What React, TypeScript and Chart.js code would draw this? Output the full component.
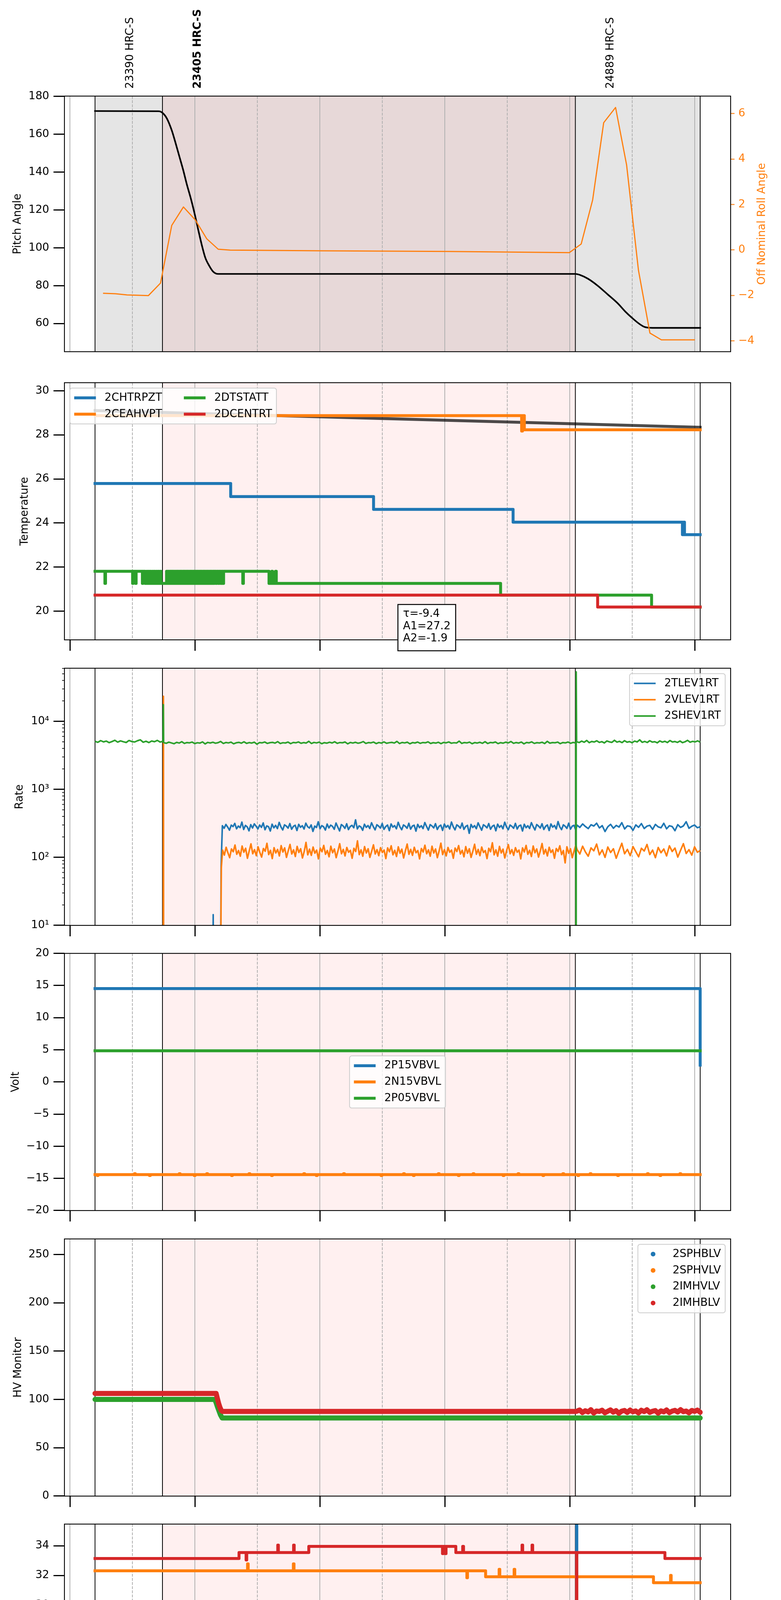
import React, { useEffect, useRef } from 'react';
import Chart from 'chart.js/auto';

const FONT = 'DejaVu Sans';
const FS = 27.8;
const BLUE = '#1f77b4';
const ORANGE = '#ff7f0e';
const GREEN = '#2ca02c';
const RED = '#d62728';

Chart.defaults.font.family = FONT;

// ---- time axis: minutes after 2020-12-13 00:00 ----
const xRange = [-2.63, 317.25];
const hourTicks = [0, 60, 120, 180, 240, 300];
const hourLabels = ['00h', '01h', '02h', '03h', '04h', '05h'];
const halfTicks = [30, 90, 150, 210, 270];
const halfLabel = '30';
const dateLabel = '2020-12-13 (348)';

// ---- observations ----
const obsStarts = [12.06, 44.44, 242.7];
const obsEnd = 302.63;
const obsNames = ['23390 HRC-S', '23405 HRC-S', '24889 HRC-S'];
const obsBold = [false, true, false];
const obsLabelShift = 17;

// ---- panel 1: pitch / roll ----
const pitchRange = [45.1, 180.2];
const pitchTicks = [60, 80, 100, 120, 140, 160, 180];
const rollRange = [-4.48, 6.77];
const rollTicks = [-4, -2, 0, 2, 4, 6];
const pitchT = [12.06, 42.5, 44.4, 46.6, 48.9, 50.6, 52.5, 54.4, 56.1, 58.0, 59.7, 61.6, 63.3, 65.0, 66.9, 68.8, 71.2, 242.7, 245.1, 248.7, 253.4, 258.2, 263.0, 266.6, 270.2, 273.3, 276.1, 279.7, 302.63];
const pitchV = [172.3, 172.2, 171.4, 168.3, 162.1, 155.9, 148.5, 141.1, 133.7, 126.3, 118.9, 109.6, 101.6, 94.8, 90.5, 87.4, 86.2, 86.2, 85.6, 83.7, 80.0, 75.4, 70.7, 66.4, 62.7, 59.9, 58.1, 57.7, 57.7];
const rollT = [15.9, 21.9, 27.4, 37.7, 43.5, 48.9, 54.5, 60.2, 65.7, 71.2, 76.9, 119.5, 181.7, 239.8, 245.5, 251.0, 256.3, 262.0, 267.3, 273.0, 278.5, 284.0, 300.1];
const rollV = [-1.91, -1.93, -1.98, -2.01, -1.46, 1.08, 1.89, 1.32, 0.49, 0.03, -0.01, -0.04, -0.07, -0.12, 0.26, 2.2, 5.6, 6.27, 3.74, -0.9, -3.66, -3.96, -3.96];

// ---- panel 2: temperature ----
const tempRange = [18.7, 30.365];
const tempTicks = [20, 22, 24, 26, 28, 30];
const fitLine = [[12.06, 29.10], [302.63, 28.34]];
const fitText = ['τ=-9.4', 'A1=27.2', 'A2=-1.9'];
const chtrpzt = [[12.06, 25.79], [77.2, 25.20], [145.8, 24.62], [212.8, 24.04], [294.1, 23.47], [294.6, 24.04], [295.1, 23.47], [302.63, 23.47]];
const ceahvpt = [[12.06, 28.87], [216.9, 28.17], [217.3, 28.87], [218.2, 28.23], [302.63, 28.23]];
const dtstatt = [
  [12.06, 21.81], [16.8, 21.26], [17.1, 21.81], [30.1, 21.26], [30.4, 21.81], [31.5, 21.26], [31.8, 21.81], [34.8, 21.26], [35.1, 21.81],
  [36.1, 21.26], [36.9, 21.81], [37.2, 21.26], [37.8, 21.81], [38.1, 21.26], [38.7, 21.81], [39.0, 21.26], [39.7, 21.81], [40.0, 21.26],
  [40.6, 21.81], [40.9, 21.26], [41.6, 21.81], [41.9, 21.26], [42.5, 21.81], [42.8, 21.26], [43.4, 21.81], [43.7, 21.26],
  [46.4, 21.81], [46.8, 21.26], [47.1, 21.81], [47.5, 21.26], [47.9, 21.81], [48.3, 21.26], [48.6, 21.81], [49.1, 21.26], [49.4, 21.81],
  [49.9, 21.26], [50.3, 21.81], [50.6, 21.26], [51.0, 21.81], [51.5, 21.26], [51.8, 21.81], [52.2, 21.26], [52.6, 21.81], [53.1, 21.26],
  [53.4, 21.81], [53.8, 21.26], [54.2, 21.81], [54.7, 21.26], [55.0, 21.81], [55.4, 21.26], [55.8, 21.81], [56.3, 21.26], [56.6, 21.81],
  [57.0, 21.26], [57.4, 21.81], [57.9, 21.26], [58.2, 21.81], [58.6, 21.26], [59.0, 21.81], [59.5, 21.26], [59.8, 21.81], [60.2, 21.26],
  [60.6, 21.81], [61.1, 21.26], [61.4, 21.81], [61.8, 21.26], [62.2, 21.81], [62.7, 21.26], [63.0, 21.81], [63.4, 21.26], [63.8, 21.81],
  [64.3, 21.26], [64.6, 21.81], [65.0, 21.26], [65.4, 21.81], [65.9, 21.26], [66.2, 21.81], [66.6, 21.26], [67.0, 21.81], [67.5, 21.26],
  [67.8, 21.81], [68.2, 21.26], [68.6, 21.81], [69.1, 21.26], [69.4, 21.81], [70.1, 21.26], [70.5, 21.81], [71.3, 21.26], [71.7, 21.81],
  [72.4, 21.26], [72.8, 21.81], [73.4, 21.26], [73.8, 21.81], [83.0, 21.26], [83.3, 21.81],
  [95.6, 21.26], [96.9, 21.81], [97.3, 21.26], [98.7, 21.81], [99.1, 21.26],
  [206.8, 20.73], [279.3, 20.19], [302.63, 20.19],
];
const dcentrt = [[12.06, 20.73], [253.4, 20.19], [302.63, 20.19]];

// ---- panel 3: rates (log) ----
const rateRange = [10, 60400];
const rateTicks = [10, 100, 1000, 10000];
const rateTickLabels = ['10¹', '10²', '10³', '10⁴'];
const rateMinor = [2, 3, 4, 5, 6, 7, 8, 9];
const tlevLead = [[12.06, 1], [68.6, 1], [68.8, 14.4], [69.0, 1], [72.3, 1], [72.6, 75]];
const tlevDense = [
  292, 268, 305, 279, 251, 298, 284, 316, 263, 289, 274, 330, 257, 295, 281, 246, 303, 270, 311, 287,
  262, 299, 276, 321, 255, 290, 283, 244, 308, 272, 296, 265, 327, 280, 253, 301, 289, 269, 314, 259,
  286, 297, 248, 306, 277, 292, 261, 318, 283, 270, 300, 241, 288, 275, 334, 264, 293, 282, 252, 309,
  271, 298, 286, 259, 320, 279, 245, 304, 290, 267, 312, 256, 285, 296, 273, 357, 262, 291, 280, 250,
  307, 276, 294, 266, 323, 283, 254, 302, 288, 270, 315, 258, 284, 299, 247, 310, 278, 293, 263, 328,
  281, 255, 300, 287, 268, 317, 260, 289, 297, 243, 306, 274, 292, 265, 325, 284, 252, 303, 290, 271,
  313, 257, 286, 298, 249, 309, 277, 295, 262, 331, 282, 254, 301, 288, 269, 319, 258, 285, 296, 226,
  305, 275, 293, 264, 322, 283, 251, 302, 289, 272, 314, 259, 287, 297, 246, 308, 276, 294, 263, 329,
  280, 255, 299, 286, 268, 316, 261, 290, 298, 244, 307, 273, 292, 266, 324, 284, 253, 304, 289, 270,
  312, 257, 286, 300, 248, 310, 278, 295, 262, 336, 281, 256, 301, 287, 267, 318, 260, 288, 296, 250,
];
const tlevTail = [
  298, 276, 310, 284, 265, 302, 289, 318, 271, 293, 240, 282, 306, 268, 295, 279, 324, 262, 291, 285,
  250, 300, 277, 314, 266, 288, 296, 258, 305, 281, 272, 317, 263, 292, 284, 247, 303, 276, 290, 334,
  268, 287, 299, 273, 281,
];
const vlevLead = [[12.06, 1], [44.8, 1], [44.9, 23400], [45.0, 1], [72.3, 1], [72.7, 70]];
const vlevDense = [
  128, 108, 141, 117, 99, 133, 121, 152, 111, 126, 104, 147, 119, 136, 97, 124, 158, 113, 130, 106,
  143, 118, 101, 135, 123, 161, 110, 127, 96, 139, 116, 131, 105, 149, 120, 138, 100, 125, 155, 112,
  129, 103, 145, 118, 134, 98, 122, 166, 109, 132, 107, 142, 115, 128, 95, 137, 121, 150, 111, 126,
  102, 146, 117, 133, 99, 124, 159, 113, 131, 105, 140, 119, 127, 97, 136, 122, 175, 110, 129, 104,
  144, 116, 134, 100, 123, 153, 112, 130, 106, 139, 118, 128, 96, 138, 121, 148, 109, 127, 103, 143,
  115, 132, 98, 125, 157, 111, 131, 107, 141, 117, 126, 95, 135, 120, 151, 113, 129, 104, 146, 116,
  133, 99, 124, 162, 110, 130, 105, 140, 119, 128, 97, 137, 122, 149, 112, 127, 102, 144, 115, 134,
  100, 123, 156, 111, 131, 106, 142, 118, 126, 96, 136, 121, 164, 109, 129, 104, 145, 116, 132, 98,
  125, 154, 113, 130, 107, 139, 119, 128, 95, 138, 120, 150, 111, 127, 103, 147, 117, 133, 101, 124,
  160, 112, 131, 105, 141, 118, 129, 97, 135, 122, 148, 110, 126, 83, 143, 115, 134, 99, 123, 152,
];
const vlevTail = [
  131, 112, 146, 120, 104, 138, 125, 157, 109, 129, 100, 142, 118, 134, 97, 126, 161, 113, 131, 106,
  144, 121, 102, 136, 124, 155, 110, 128, 99, 140, 117, 133, 105, 148, 122, 137, 101, 127, 159, 114,
  130, 108, 143, 119, 126,
];
const shevHead = [5080, 4920, 5210, 4990, 5130, 4860, 5050, 5270, 4950, 5160, 5010, 4890, 5230, 5040, 4970, 5190, 5350, 4930, 5100, 4880, 5140, 5020, 5250, 4960, 5090];
const shevSpike1 = [[44.85, 17600]];
const shevMid = [
  4870, 4760, 4950, 4820, 4690, 4910, 4800, 5020, 4740, 4880, 4830, 4960, 4710, 4850, 4790, 4990, 4660, 4900, 4810, 4930,
  4770, 4860, 5060, 4730, 4890, 4820, 4950, 4680, 4840, 4910, 4780, 5000, 4750, 4870, 4800, 4940, 4620, 4880, 4830, 4970,
  4740, 4860, 4910, 4790, 5030, 4720, 4850, 4810, 4960, 4700, 4890, 4840, 4980, 4760, 4870, 4800, 5090, 4730, 4900, 4820,
  4950, 4690, 4860, 4780, 4930, 4810, 5010, 4750, 4880, 4840, 4970, 4670, 4890, 4800, 4920, 4770, 4860, 5040, 4740, 4870,
  4830, 4960, 4710, 4880, 4790, 4990, 4760, 4850, 4910, 4800, 5070, 4720, 4890, 4820, 4940, 4680, 4870, 4810, 4960, 4750,
  4880, 4840, 5000, 4730, 4860, 4790, 4930, 4700, 4900, 4830, 4980, 4770, 4850, 4810, 5120, 4740, 4880, 4820, 4950, 4690,
  4870, 4800, 4920, 4760, 5020, 4730, 4890, 4840, 4970, 4710, 4860, 4780, 4940, 4820, 5050, 4750, 4880, 4800, 4960, 4670,
  4890, 4830, 4990, 4740, 4860, 4810, 4930, 4720, 5080, 4780, 4870, 4840, 4950, 4700, 4880, 4820, 4970, 4760, 4900, 4810,
];
const shevSpike2 = [[243.0, 1], [243.1, 53400]];
const shevTail = [
  5010, 4880, 5120, 4930, 5240, 4860, 5060, 4970, 5180, 4900, 5030, 4820, 5150, 4990, 4910, 5270, 4950, 5080, 4870, 5200,
  4940, 5040, 4850, 5130, 4980, 5350, 4920, 5070, 4890, 5190, 4960, 5020, 4830, 5160, 4950, 5090, 4880, 5220, 4970, 5050,
  4900, 5140, 4860, 5010, 5260, 4930, 5080, 4990, 5170, 4940,
];

// ---- panel 4: voltages ----
const voltRange = [-20, 20];
const voltTicks = [-20, -15, -10, -5, 0, 5, 10, 15, 20];
const p15vbvl = [[12.06, 14.53], [302.63, 2.62]];
const p05vbvl = [[12.06, 4.85], [302.63, 4.85]];
const n15vbvl = [
  [12.06, -14.41], [13.1, -14.55], [13.5, -14.41], [31.0, -14.28], [31.4, -14.41], [38.2, -14.55], [38.6, -14.41], [52.5, -14.28], [52.9, -14.41],
  [59.7, -14.55], [60.1, -14.41], [65.7, -14.28], [66.1, -14.41], [77.6, -14.55], [78.0, -14.41], [86.0, -14.28], [86.4, -14.41], [96.8, -14.55],
  [97.2, -14.41], [112.3, -14.28], [112.7, -14.41], [118.3, -14.55], [118.7, -14.41], [131.4, -14.28], [131.8, -14.41], [149.4, -14.55], [149.8, -14.41],
  [160.2, -14.28], [160.6, -14.41], [164.9, -14.55], [165.3, -14.41], [176.9, -14.28], [177.3, -14.41], [186.5, -14.55], [186.9, -14.41], [193.6, -14.28],
  [194.0, -14.41], [208.0, -14.55], [208.4, -14.41], [215.2, -14.28], [215.6, -14.41], [227.1, -14.55], [227.5, -14.41], [236.7, -14.28], [237.1, -14.41],
  [243.9, -14.55], [244.3, -14.41], [249.8, -14.28], [250.2, -14.41], [263.0, -14.55], [263.4, -14.41], [277.3, -14.28], [277.7, -14.41], [283.3, -14.55],
  [283.7, -14.41], [292.9, -14.28], [293.3, -14.41], [302.63, -14.41],
];

// ---- panel 5: HV monitor ----
const hvRange = [0, 266];
const hvTicks = [0, 50, 100, 150, 200, 250];
const imhvlv = [[12.06, 100], [69.6, 100], [70.3, 96], [70.9, 92], [71.6, 88], [72.3, 84], [73.1, 80.8], [302.63, 80.8]];
const imhblvHead = [[12.06, 106.2], [70.2, 106.2], [70.8, 101], [71.4, 96], [72.0, 92], [72.7, 88.5], [73.3, 87.6], [243.0, 87.6]];
const imhblvTail = [
  87.8, 89.1, 86.4, 88.3, 87.0, 89.4, 85.9, 88.0, 87.5, 88.9, 86.2, 87.7, 89.2, 86.8, 88.4, 85.7, 87.9, 88.6, 86.5, 89.0,
  87.2, 88.1, 86.0, 88.8, 87.4, 89.3, 86.6, 87.8, 88.5, 85.8, 88.2, 87.1, 89.1, 86.3, 87.9, 88.7, 86.9, 89.4, 87.3, 88.0,
  86.1, 88.6, 87.6, 89.0, 86.7,
];

// ---- panel 6: detector temperatures ----
const detRange = [18.12, 35.46];
const detTicks = [20, 22, 24, 26, 28, 30, 32, 34];
const spinatm = [[12.06, 19.62], [243.3, 40], [243.4, 19.62], [302.63, 19.62]];
const sphvatm = [[12.06, 32.31], [85.3, 32.78], [85.6, 32.31], [107.3, 32.78], [107.6, 32.31], [190.6, 31.84], [190.9, 32.31], [199.6, 31.91], [206.1, 32.41], [206.4, 31.91], [213.3, 32.41], [213.6, 31.91], [243.3, 21.13], [243.4, 31.91], [280.2, 31.51], [288.4, 32.0], [288.7, 31.51], [302.63, 31.51]];
const iminatm = [[12.06, 20.98], [243.3, 10], [243.4, 20.98], [258.7, 20.29], [302.63, 20.29]];
const imhvatm = [[12.06, 33.14], [81.2, 33.54], [84.6, 33.04], [84.9, 33.54], [99.8, 34.04], [100.1, 33.54], [107.4, 34.04], [107.7, 33.54], [114.7, 33.96], [178.9, 33.47], [179.3, 33.96], [180.2, 33.47], [180.6, 33.96], [185.3, 33.54], [188.6, 33.96], [189.0, 33.54], [217.1, 34.04], [217.4, 33.54], [221.9, 34.04], [222.2, 33.54], [243.3, 24.2], [243.4, 33.54], [285.7, 33.14], [302.63, 33.14]];

// ---- panel 7: FEA temperatures ----
const feaRange = [15.65, 26.89];
const feaTicks = [16, 18, 20, 22, 24, 26];
const fhtrmzt = [[12.06, 24.04], [51.3, 24.62], [67.6, 24.04], [116.2, 23.47], [159.8, 22.91], [206.0, 22.40], [257.0, 21.80], [302.63, 21.80]];
const fradpyt = [[12.06, 19.68], [55.0, 20.24], [55.3, 19.68], [73.8, 19.17], [89.9, 18.65], [113.3, 18.14], [147.0, 17.65], [188.6, 17.15], [233.8, 16.66], [302.63, 16.66]];
const fepratm = [
  [12.06, 25.38], [56.1, 26.22], [56.5, 25.38], [56.8, 26.22], [57.3, 25.38], [57.6, 26.22], [58.0, 25.38], [58.4, 26.22], [58.9, 25.38],
  [59.2, 26.22], [59.6, 25.38], [60.0, 26.22], [60.5, 25.38], [60.8, 26.22], [61.2, 25.38], [61.6, 26.22], [62.1, 25.38], [62.4, 26.22],
  [62.8, 25.38], [63.2, 26.22], [63.7, 25.38], [64.0, 26.22], [64.4, 25.38], [64.8, 26.22], [65.3, 25.38], [65.6, 26.22], [66.0, 25.38],
  [66.4, 26.22], [66.9, 25.38], [67.2, 26.22], [67.6, 25.38], [68.0, 26.22], [68.5, 25.38], [68.8, 26.22], [69.2, 25.38], [69.6, 26.22],
  [70.1, 25.38], [70.4, 26.22], [70.8, 25.38], [71.2, 26.22], [71.7, 25.38], [72.0, 26.22], [72.4, 25.38], [72.8, 26.22], [73.3, 25.38],
  [73.6, 26.22], [74.0, 25.38], [74.4, 26.22], [74.9, 25.38], [75.2, 26.22], [75.5, 25.38],
  [159.8, 24.63], [166.7, 25.40], [167.0, 24.63], [233.1, 23.87], [302.63, 23.87],
];
const fe00atm = [
  [12.06, 23.61], [58.0, 24.0], [58.3, 23.61], [59.6, 24.0], [60.0, 23.61], [61.3, 24.0], [61.7, 23.61],
  [88.6, 21.69], [88.9, 23.61], [93.3, 23.27], [93.6, 23.61], [98.3, 22.62], [98.6, 23.61], [101.7, 22.0], [102.0, 23.61],
  [104.0, 23.29], [107.5, 23.65], [107.8, 23.29], [115.2, 23.65], [115.5, 23.29], [125.4, 22.94], [125.7, 23.29], [127.8, 24.29], [128.1, 23.29],
  [130.1, 23.97], [130.4, 23.29], [135.6, 22.98], [137.0, 23.34], [137.3, 22.98], [142.0, 22.34], [142.3, 22.98], [143.0, 22.0], [143.3, 22.98],
  [169.3, 22.65], [175.2, 22.31], [175.5, 22.65], [176.6, 22.99], [176.9, 22.65], [192.0, 23.32], [192.3, 22.65], [197.0, 22.31], [197.3, 22.65],
  [202.4, 23.64], [202.6, 22.0], [202.8, 22.65], [203.3, 22.33], [210.1, 22.68], [210.4, 22.33],
  [239.8, 22.02], [243.3, 40], [243.4, 22.02], [279.0, 23.0], [279.3, 22.02], [283.3, 21.70], [302.63, 21.70],
];

// ---- helpers ----
type Pt = { x: number; y: number };
const pts = (rows: number[][]): Pt[] => rows.map(([x, y]) => ({ x, y }));
const zip = (t: number[], v: number[]): Pt[] => t.map((x, i) => ({ x, y: v[i] }));
// evenly spaced samples between two times (the telemetry sample clock)
const spread = (vals: number[], t0: number, t1: number): Pt[] =>
  vals.map((y, i) => ({ x: t0 + ((t1 - t0) * i) / (vals.length - 1), y }));
const fmt = (v: number) => String(v).replace('-', '\u2212');

type Series = {
  label: string; color: string; width: number; points: Pt[];
  stepped?: boolean; smooth?: boolean; axis?: string; cap?: CanvasLineCap; legend?: boolean; marker?: boolean;
};
type PanelSpec = {
  key: string; top: number; padTop: number; axisH: number; title: string; titleX: number;
  yRange: number[]; yTicks: number[]; yLabels?: string[]; log?: boolean;
  series: Series[]; legend?: { loc: string; ncol: number };
  xTicks: 'none' | 'marks' | 'labels'; first?: boolean;
  extra?: (chart: any) => void;
};

const PLOT_H = 662;
const LEFT_W = 165;
const RIGHT_W = 129;

const thick = (label: string, color: string, rows: number[][]): Series => ({ label, color, width: 7.5, points: pts(rows), stepped: true, cap: 'square', legend: true });

function drawLegend(ctx: CanvasRenderingContext2D, a: any, items: Series[], loc: string, ncol: number) {
  const pad = 0.4 * FS, lsp = 0.5 * FS, hl = 2 * FS, htp = 0.8 * FS, bap = 0.5 * FS, csp = 2 * FS, rowH = FS;
  ctx.save();
  ctx.font = `${FS}px "${FONT}"`;
  const nrow = Math.ceil(items.length / ncol);
  const cols: Series[][] = [];
  for (let c = 0; c < ncol; c++) cols.push(items.slice(c * nrow, (c + 1) * nrow));
  const colW = cols.map((col) => hl + htp + Math.max(...col.map((s) => ctx.measureText(s.label).width)));
  const w = 2 * pad + colW.reduce((p, q) => p + q, 0) + (ncol - 1) * csp;
  const h = 2 * pad + nrow * rowH + (nrow - 1) * lsp;
  let x0 = a.left + bap;
  let y0 = a.top + bap;
  if (loc.includes('right')) x0 = a.right - bap - w;
  if (loc === 'center') x0 = (a.left + a.right) / 2 - w / 2;
  if (loc.startsWith('center')) y0 = (a.top + a.bottom) / 2 - h / 2;
  if (loc.startsWith('lower')) y0 = a.bottom - bap - h;
  ctx.beginPath();
  ctx.roundRect(x0, y0, w, h, 0.2 * FS);
  ctx.fillStyle = 'rgba(255,255,255,0.8)';
  ctx.fill();
  ctx.strokeStyle = '#cccccc';
  ctx.lineWidth = 2;
  ctx.stroke();
  let colX = x0 + pad;
  cols.forEach((col, c) => {
    col.forEach((s, r) => {
      const yc = y0 + pad + r * (rowH + lsp) + rowH / 2;
      if (s.marker) {
        ctx.beginPath();
        ctx.arc(colX + hl / 2, yc, 6, 0, Math.PI * 2);
        ctx.fillStyle = s.color;
        ctx.fill();
      } else {
        ctx.beginPath();
        ctx.moveTo(colX, yc);
        ctx.lineTo(colX + hl, yc);
        ctx.strokeStyle = s.color;
        ctx.lineWidth = s.width;
        ctx.lineCap = 'butt';
        ctx.stroke();
      }
      ctx.fillStyle = '#000';
      ctx.textAlign = 'left';
      ctx.textBaseline = 'middle';
      ctx.fillText(s.label, colX + hl + htp, yc);
    });
    colX += colW[c] + csp;
  });
  ctx.restore();
}

const decorPlugin = (spec: PanelSpec) => ({
  id: 'decor-' + spec.key,
  beforeDatasetsDraw(chart: any) {
    const { ctx, chartArea: a } = chart;
    const px = (t: number) => chart.scales.x.getPixelForValue(t);
    const vline = (t: number) => { ctx.beginPath(); ctx.moveTo(px(t), a.top); ctx.lineTo(px(t), a.bottom); ctx.stroke(); };
    ctx.save();
    ctx.beginPath();
    ctx.rect(a.left, a.top, a.width, a.height);
    ctx.clip();
    if (spec.first) {
      ctx.fillStyle = 'rgba(0,0,0,0.1)';
      ctx.fillRect(px(obsStarts[0]), a.top, px(obsEnd) - px(obsStarts[0]), a.height);
    }
    ctx.fillStyle = 'rgba(255,0,0,0.06)';
    ctx.fillRect(px(obsStarts[1]), a.top, px(obsStarts[2]) - px(obsStarts[1]), a.height);
    ctx.strokeStyle = '#b0b0b0';
    ctx.lineWidth = 2;
    hourTicks.forEach(vline);
    ctx.setLineDash([7.4, 3.2]);
    halfTicks.forEach(vline);
    ctx.setLineDash([]);
    ctx.strokeStyle = '#000';
    ctx.lineWidth = 2;
    [...obsStarts, obsEnd].forEach(vline);
    ctx.restore();
  },
  afterDraw(chart: any) {
    const { ctx, chartArea: a } = chart;
    ctx.save();
    ctx.strokeStyle = '#000';
    ctx.lineWidth = 2.2;
    ctx.strokeRect(a.left, a.top, a.width, a.height);
    ctx.restore();
    if (spec.legend) drawLegend(ctx, a, spec.series.filter((s) => s.legend), spec.legend.loc, spec.legend.ncol);
    if (spec.extra) spec.extra(chart);
  },
});

function buildConfig(spec: PanelSpec): any {
  const tickFont = { family: FONT, size: FS };
  const scales: any = {
    x: {
      type: 'linear', position: 'bottom', min: xRange[0], max: xRange[1], bounds: 'data',
      afterBuildTicks: (s: any) => { s.ticks = hourTicks.map((value) => ({ value })); },
      afterFit: (s: any) => { s.height = spec.axisH; },
      grid: { display: spec.xTicks !== 'none', drawOnChartArea: false, drawTicks: true, tickLength: 28, tickWidth: 3, tickColor: '#000' },
      border: { display: false },
      ticks: { display: spec.xTicks === 'labels', autoSkip: false, maxRotation: 0, color: '#000', padding: 4.6, font: tickFont, callback: (_v: number, i: number) => hourLabels[i] },
      title: { display: spec.xTicks === 'labels', text: dateLabel, color: '#000', font: { family: FONT, size: 33.4, lineHeight: 1.2 }, padding: 0 },
    },
    y: {
      type: spec.log ? 'logarithmic' : 'linear', position: 'left', min: spec.yRange[0], max: spec.yRange[1], bounds: 'data',
      afterBuildTicks: (s: any) => { s.ticks = spec.yTicks.map((value) => ({ value })); },
      afterFit: (s: any) => { s.width = LEFT_W; },
      grid: { drawOnChartArea: false, drawTicks: true, tickLength: 28, tickWidth: 3, tickColor: '#000' },
      border: { display: false },
      ticks: { color: '#000', padding: 11, font: tickFont, callback: (v: number, i: number) => (spec.yLabels ? spec.yLabels[i] : fmt(v)) },
      title: { display: true, text: spec.title, color: '#000', font: { family: FONT, size: FS, lineHeight: 1 }, padding: { top: spec.titleX - FS / 2, bottom: 0 } },
    },
  };
  if (spec.first) {
    scales.y1 = {
      type: 'linear', position: 'right', min: rollRange[0], max: rollRange[1], bounds: 'data',
      afterBuildTicks: (s: any) => { s.ticks = rollTicks.map((value) => ({ value })); },
      afterFit: (s: any) => { s.width = RIGHT_W; },
      grid: { drawOnChartArea: false, drawTicks: true, tickLength: 10, tickWidth: 2.2, tickColor: ORANGE },
      border: { display: false },
      ticks: { color: ORANGE, padding: 9.7, font: tickFont, callback: (v: number) => fmt(v) },
    };
  }
  const n = spec.series.length;
  return {
    type: 'line',
    data: {
      datasets: spec.series.map((s, i) => ({
        label: s.label, data: s.points, parsing: false, borderColor: s.color, backgroundColor: s.color,
        borderWidth: s.width, pointRadius: 0, pointHoverRadius: 0, fill: false,
        stepped: s.stepped ? true : false, cubicInterpolationMode: s.smooth ? 'monotone' : 'default',
        borderJoinStyle: 'round', borderCapStyle: s.cap || 'butt', yAxisID: s.axis || 'y', clip: 0, order: n - i,
      })),
    },
    options: {
      responsive: false, animation: false, devicePixelRatio: 1, events: [],
      layout: { padding: { top: spec.padTop, left: 0, bottom: 0, right: spec.first ? 0 : RIGHT_W } },
      plugins: { legend: { display: false }, tooltip: { enabled: false } },
      scales,
    },
    plugins: [decorPlugin(spec)],
  };
}

const panels: PanelSpec[] = [
  {
    key: 'pitch', top: 246, padTop: 246, axisH: 20, title: 'Pitch Angle', titleX: 46, first: true,
    yRange: pitchRange, yTicks: pitchTicks, xTicks: 'none',
    series: [
      { label: 'Pitch', color: '#000', width: 4.2, points: zip(pitchT, pitchV), smooth: true, cap: 'square' },
      { label: 'Roll', color: ORANGE, width: 3, points: zip(rollT, rollV), axis: 'y1' },
    ],
    extra: (chart) => {
      const { ctx, chartArea: a } = chart;
      ctx.save();
      ctx.fillStyle = '#000';
      obsNames.forEach((name, i) => {
        ctx.save();
        ctx.translate(chart.scales.x.getPixelForValue(obsStarts[i] + obsLabelShift), a.top - 19);
        ctx.rotate(-Math.PI / 2);
        ctx.font = `${obsBold[i] ? 'bold ' : ''}${FS}px "${FONT}"`;
        ctx.textAlign = 'left';
        ctx.textBaseline = 'middle';
        ctx.fillText(name, 0, 0);
        ctx.restore();
      });
      ctx.translate(a.right + 80.5, (a.top + a.bottom) / 2);
      ctx.rotate(-Math.PI / 2);
      ctx.font = `${FS}px "${FONT}"`;
      ctx.fillStyle = ORANGE;
      ctx.textAlign = 'center';
      ctx.textBaseline = 'middle';
      ctx.fillText('Off Nominal Roll Angle', 0, 0);
      ctx.restore();
    },
  },
  {
    key: 'temp', top: 976, padTop: 24, axisH: 40, title: 'Temperature', titleX: 64,
    yRange: tempRange, yTicks: tempTicks, xTicks: 'marks', legend: { loc: 'upper left', ncol: 2 },
    series: [
      { label: 'fit', color: 'rgba(0,0,0,0.7)', width: 7.5, points: pts(fitLine), cap: 'square' },
      thick('2CHTRPZT', BLUE, chtrpzt),
      thick('2CEAHVPT', ORANGE, ceahvpt),
      thick('2DTSTATT', GREEN, dtstatt),
      thick('2DCENTRT', RED, dcentrt),
    ],
    extra: (chart) => {
      const { ctx, chartArea: a } = chart;
      ctx.save();
      ctx.font = `${FS}px "${FONT}"`;
      const lh = 31.5;
      const w = Math.max(...fitText.map((t) => ctx.measureText(t).width)) + 26;
      const h = fitText.length * lh + 24;
      const bx = a.left + a.width / 2 + 1;
      const by = a.top + a.height * 0.8625;
      ctx.fillStyle = '#fff';
      ctx.fillRect(bx, by, w, h);
      ctx.strokeStyle = '#000';
      ctx.lineWidth = 2.5;
      ctx.strokeRect(bx, by, w, h);
      ctx.fillStyle = '#000';
      ctx.textAlign = 'left';
      ctx.textBaseline = 'middle';
      fitText.forEach((t, i) => ctx.fillText(t, bx + 13, by + 24.7 + i * lh));
      ctx.restore();
    },
  },
  {
    key: 'rate', top: 1707, padTop: 24, axisH: 40, title: 'Rate', titleX: 51, log: true,
    yRange: rateRange, yTicks: rateTicks, yLabels: rateTickLabels, xTicks: 'marks', legend: { loc: 'upper right', ncol: 1 },
    series: [
      { label: '2TLEV1RT', color: BLUE, width: 4, legend: true, points: [...pts(tlevLead), ...spread(tlevDense, 73.2, 242.9), ...spread(tlevTail, 243.5, 302.63)] },
      { label: '2VLEV1RT', color: ORANGE, width: 4, legend: true, points: [...pts(vlevLead), ...spread(vlevDense, 73.3, 242.9), ...spread(vlevTail, 243.5, 302.63)] },
      { label: '2SHEV1RT', color: GREEN, width: 4, legend: true, points: [...spread(shevHead, 12.06, 44.7), ...pts(shevSpike1), ...spread(shevMid, 45.0, 242.9), ...pts(shevSpike2), ...spread(shevTail, 243.3, 302.63)] },
    ],
    extra: (chart) => {
      const { ctx, chartArea: a } = chart;
      const y = chart.scales.y;
      ctx.save();
      ctx.strokeStyle = '#000';
      ctx.lineWidth = 1.7;
      rateTicks.forEach((d) => rateMinor.forEach((k) => {
        const v = d * k;
        if (v > rateRange[1]) return;
        const py = y.getPixelForValue(v);
        ctx.beginPath();
        ctx.moveTo(a.left - 6, py);
        ctx.lineTo(a.left, py);
        ctx.stroke();
      }));
      ctx.restore();
    },
  },
  {
    key: 'volt', top: 2437, padTop: 24, axisH: 40, title: 'Volt', titleX: 41,
    yRange: voltRange, yTicks: voltTicks, xTicks: 'marks', legend: { loc: 'center', ncol: 1 },
    series: [
      thick('2P15VBVL', BLUE, p15vbvl),
      thick('2N15VBVL', ORANGE, n15vbvl),
      thick('2P05VBVL', GREEN, p05vbvl),
    ],
  },
  {
    key: 'hv', top: 3168, padTop: 24, axisH: 40, title: 'HV Monitor', titleX: 47,
    yRange: hvRange, yTicks: hvTicks, xTicks: 'marks', legend: { loc: 'upper right', ncol: 1 },
    series: [
      { label: '2SPHBLV', color: BLUE, width: 13, points: [], legend: true, marker: true, cap: 'round' },
      { label: '2SPHVLV', color: ORANGE, width: 13, points: [], legend: true, marker: true, cap: 'round' },
      { label: '2IMHVLV', color: GREEN, width: 13, points: pts(imhvlv), legend: true, marker: true, cap: 'round' },
      { label: '2IMHBLV', color: RED, width: 13, points: [...pts(imhblvHead), ...spread(imhblvTail, 243.4, 302.63)], legend: true, marker: true, cap: 'round' },
    ],
  },
  {
    key: 'det', top: 3898, padTop: 24, axisH: 40, title: 'Detector Temp', titleX: 64,
    yRange: detRange, yTicks: detTicks, xTicks: 'marks', legend: { loc: 'center right', ncol: 1 },
    series: [
      thick('2SPINATM', BLUE, spinatm),
      thick('2SPHVATM', ORANGE, sphvatm),
      thick('2IMINATM', GREEN, iminatm),
      thick('2IMHVATM', RED, imhvatm),
    ],
  },
  {
    key: 'fea', top: 4629, padTop: 24, axisH: 105, title: 'FEA Temp', titleX: 63,
    yRange: feaRange, yTicks: feaTicks, xTicks: 'labels', legend: { loc: 'lower left', ncol: 1 },
    series: [
      thick('2FHTRMZT', BLUE, fhtrmzt),
      thick('2FRADPYT', ORANGE, fradpyt),
      thick('2FEPRATM', GREEN, fepratm),
      thick('2FE00ATM', RED, fe00atm),
    ],
    extra: (chart) => {
      const { ctx, chartArea: a } = chart;
      ctx.save();
      ctx.font = `19px "${FONT}"`;
      ctx.fillStyle = '#000';
      ctx.textAlign = 'center';
      ctx.textBaseline = 'middle';
      halfTicks.forEach((t) => ctx.fillText(halfLabel, chart.scales.x.getPixelForValue(t), a.bottom + 14.3));
      ctx.restore();
    },
  },
];

const Panel: React.FC<{ spec: PanelSpec }> = ({ spec }) => {
  const canvasRef = useRef<HTMLCanvasElement | null>(null);
  const height = spec.padTop + PLOT_H + spec.axisH;

  useEffect(() => {
    if (!canvasRef.current) return;
    const chart = new Chart(canvasRef.current, buildConfig(spec));
    return () => {
      chart.destroy();
    };
  }, [spec]);

  return (
    <canvas
      ref={canvasRef}
      width={2000}
      height={height}
      style={{ position: 'absolute', left: 0, top: spec.top - spec.padTop, width: 2000, height }}
    />
  );
};

export default function App() {
  return (
    <div style={{ position: 'absolute', left: 0, top: 0, width: 2000, height: 5400, background: '#fff' }}>
      {panels.map((p) => (
        <Panel key={p.key} spec={p} />
      ))}
    </div>
  );
}
